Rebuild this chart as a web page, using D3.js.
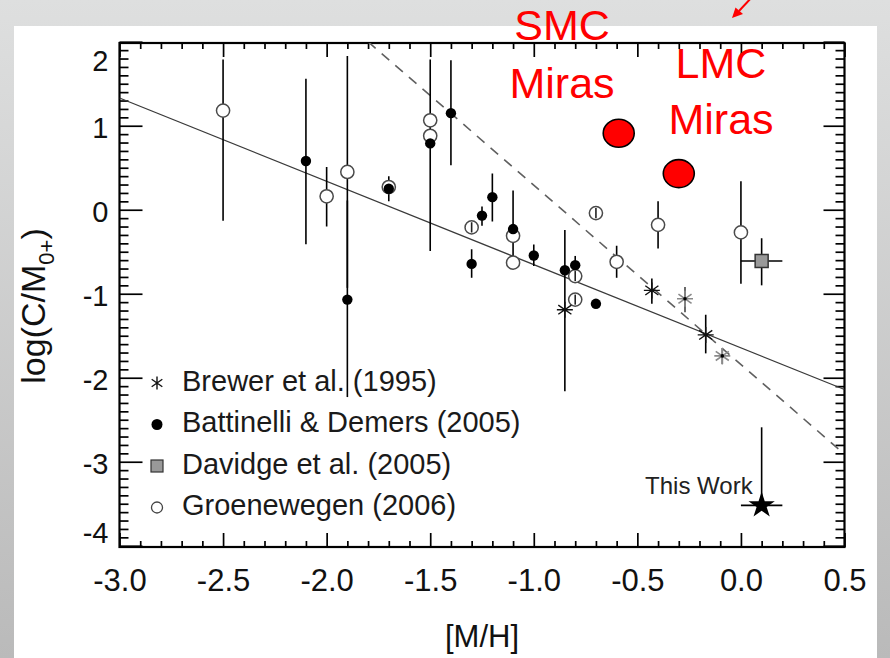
<!DOCTYPE html>
<html>
<head>
<meta charset="utf-8">
<script src="https://cdn.jsdelivr.net/npm/d3@7"></script>
<style>
  html, body { margin: 0; padding: 0; background: #fff; }
  svg { display: block; }
  text { font-family: "Liberation Sans", Arial, Helvetica, sans-serif; }
</style>
</head>
<body>
<svg id="chart" width="890" height="658"></svg>
<script>
// ---- axis ticks ----
const xTicks = [-3.0, -2.5, -2.0, -1.5, -1.0, -0.5, 0.0, 0.5];
const yTicks = [2, 1, 0, -1, -2, -3, -4];

// ---- Battinelli & Demers (2005): filled circles ----
const bdX  = [-2.10, -1.90, -1.70, -1.50, -1.40, -1.30, -1.25, -1.20, -1.10, -1.00, -0.85, -0.80, -0.70];
const bdY  = [ 0.58, -1.07,  0.25,  0.79,  1.15, -0.645, -0.07, 0.15, -0.23, -0.545, -0.72, -0.66, -1.12];
const bdLo = [-0.41, -2.23,  0.10, -0.49,  0.53, -0.81, -0.19, -0.14, -0.64, -0.67, -0.72, -0.74, -1.12];
const bdHi = [ 1.56,  0.11,  0.40,  1.79,  1.78, -0.47,  0.04,  0.43,  0.23, -0.415, -0.72, -0.55, -1.12];

// ---- Groenewegen (2006): open circles ----
const grX  = [-2.50, -2.00, -1.90, -1.70, -1.50, -1.50, -1.30, -1.10, -1.10, -0.80, -0.80, -0.70, -0.60, -0.40, 0.00];
const grY  = [ 1.18,  0.16,  0.45,  0.27,  1.065, 0.88, -0.21, -0.31, -0.63, -0.79, -1.07, -0.04, -0.62, -0.18, -0.27];
const grLo = [-0.13, -0.20, -0.93,  0.27,  1.065, 0.88, -0.27, -0.31, -0.63, -0.85, -1.13, -0.10, -0.81, -0.46, -0.88];
const grHi = [ 1.79,  0.51,  1.83,  0.27,  1.065, 0.88, -0.15, -0.31, -0.63, -0.73, -1.01,  0.02, -0.43,  0.10,  0.34];

// ---- Brewer et al. (1995): asterisks ----
const brX  = [-0.85, -0.43, -0.17];
const brY  = [-1.19, -0.96, -1.49];
const brLo = [-2.16, -1.12, -1.71];
const brHi = [-0.24, -0.82, -1.25];
// second Brewer subsample (grey asterisks)
const br2X  = [-0.27, -0.09];
const br2Y  = [-1.06, -1.74];
const br2Lo = [-1.22, -1.84];
const br2Hi = [-0.92, -1.65];

// ---- Davidge et al. (2005): grey square ----
const dvX = [0.10], dvY = [-0.61];
const dvXLo = [0.00], dvXHi = [0.20];
const dvYLo = [-0.90], dvYHi = [-0.34];

// ---- This Work: star ----
const twX = [0.10], twY = [-3.52];
const twXLo = [0.00], twXHi = [0.20];
const twYLo = [-3.52], twYHi = [-2.59];

// ---- Mira populations (red discs) ----
const miraNames = ["SMC", "LMC"];
const miraX = [-0.59, -0.30];
const miraY = [0.91, 0.43];

// ---- fitted relations ----
const fitX = [-3.0, 0.5],  fitY = [1.33, -2.14];
const dashX = [-1.80, 0.5], dashY = [2.00, -2.91];

// ---- legend ----
const legendNames = ["Brewer et al. (1995)", "Battinelli & Demers (2005)", "Davidge et al. (2005)", "Groenewegen (2006)"];
const legendKinds = ["asterisk", "filled", "square", "open"];

// =========================================================
const W = 890, H = 658;
const svg = d3.select("#chart");
const defs = svg.append("defs");

// slide background
const bg = defs.append("linearGradient").attr("id", "slideBg")
  .attr("x1", 0).attr("y1", 0).attr("x2", 0).attr("y2", 1);
bg.append("stop").attr("offset", "0%").attr("stop-color", "#dedfdf");
bg.append("stop").attr("offset", "100%").attr("stop-color", "#bababa");
svg.append("rect").attr("width", W).attr("height", H).attr("fill", "url(#slideBg)");
svg.append("rect").attr("x", 14).attr("y", 26).attr("width", 863).attr("height", H - 26).attr("fill", "#fff");

// scales
const L = 119.5, R = 844.5, T = 43, B = 547;
const x = d3.scaleLinear().domain([-3, 0.5]).range([L, R]);
const y = d3.scaleLinear().domain([-4.015, 1.985]).range([B, T]);

defs.append("clipPath").attr("id", "plotClip")
  .append("rect").attr("x", L).attr("y", T).attr("width", R - L).attr("height", B - T);

// minor tick positions
const xMinor = d3.range(-30, 6).map(i => i / 10).filter(v => Math.abs(v * 2 - Math.round(v * 2)) > 1e-6);
const yMinor = d3.range(-40, 20).map(i => i / 10).filter(v => Math.abs(v - Math.round(v)) > 1e-6);

function styleAxis(g) {
  g.select(".domain").remove();
  g.selectAll(".tick line").attr("stroke", "#000").attr("stroke-width", 1.7);
}

// bottom axis with labels
const gxB = svg.append("g").attr("transform", `translate(0,${B})`)
  .call(d3.axisBottom(x).tickValues(xTicks).tickSize(-14).tickSizeOuter(0).tickPadding(22)
    .tickFormat(d => d.toFixed(1)));
styleAxis(gxB);
gxB.selectAll("text").attr("font-size", 31).attr("fill", "#111");
svg.append("g").attr("transform", `translate(0,${B})`)
  .call(d3.axisBottom(x).tickValues(xMinor).tickSize(-6).tickSizeOuter(0).tickFormat(""))
  .call(styleAxis);
// top axis
svg.append("g").attr("transform", `translate(0,${T})`)
  .call(d3.axisTop(x).tickValues(xTicks).tickSize(-14).tickSizeOuter(0).tickFormat(""))
  .call(styleAxis);
svg.append("g").attr("transform", `translate(0,${T})`)
  .call(d3.axisTop(x).tickValues(xMinor).tickSize(-6).tickSizeOuter(0).tickFormat(""))
  .call(styleAxis);

// left axis with labels
const gyL = svg.append("g").attr("transform", `translate(${L},0)`)
  .call(d3.axisLeft(y).tickValues(yTicks).tickSize(-23).tickSizeOuter(0).tickPadding(11)
    .tickFormat(d => String(d)));
styleAxis(gyL);
gyL.selectAll("text").attr("font-size", 29).attr("fill", "#111")
  .attr("dy", d => d === 2 ? "0.98em" : d === -4 ? "-0.1em" : "0.42em");
svg.append("g").attr("transform", `translate(${L},0)`)
  .call(d3.axisLeft(y).tickValues(yMinor).tickSize(-9).tickSizeOuter(0).tickFormat(""))
  .call(styleAxis);
// right axis
svg.append("g").attr("transform", `translate(${R},0)`)
  .call(d3.axisRight(y).tickValues(yTicks).tickSize(-21).tickSizeOuter(0).tickFormat(""))
  .call(styleAxis);
svg.append("g").attr("transform", `translate(${R},0)`)
  .call(d3.axisRight(y).tickValues(yMinor).tickSize(-9).tickSizeOuter(0).tickFormat(""))
  .call(styleAxis);

// frame
svg.append("rect").attr("x", L).attr("y", T).attr("width", R - L).attr("height", B - T)
  .attr("fill", "none").attr("stroke", "#000").attr("stroke-width", 2.2);

// axis titles
svg.append("text").attr("x", (L + R) / 2).attr("y", 647).attr("text-anchor", "middle")
  .attr("font-size", 31).attr("fill", "#111").text("[M/H]");
const yTitle = svg.append("text").attr("transform", "translate(45,306) rotate(-90)")
  .attr("text-anchor", "middle").attr("font-size", 34).attr("fill", "#111");
yTitle.append("tspan").text("log(C/M");
yTitle.append("tspan").attr("font-size", 22).attr("dy", 9).text("0+");
yTitle.append("tspan").attr("dy", -9).text(")");

// plot content
const plot = svg.append("g").attr("clip-path", "url(#plotClip)");

// fitted lines
const line = d3.line().x(d => x(d[0])).y(d => y(d[1]));
plot.append("path").datum(d3.zip(fitX, fitY)).attr("d", line)
  .attr("fill", "none").attr("stroke", "#3a3a3a").attr("stroke-width", 1.3);
plot.append("path").datum(d3.zip(dashX, dashY)).attr("d", line)
  .attr("fill", "none").attr("stroke", "#606060").attr("stroke-width", 1.6)
  .attr("stroke-dasharray", "10,8");

const rOpen = 6.6, rFill = 5.2;

function vBars(g, xs, los, his, color, filterFn) {
  g.selectAll(null).data(d3.range(xs.length).filter(filterFn || (() => true))).join("line")
    .attr("x1", i => x(xs[i])).attr("x2", i => x(xs[i]))
    .attr("y1", i => y(his[i])).attr("y2", i => y(los[i]))
    .attr("stroke", color).attr("stroke-width", 1.6);
}

// error bars that extend beyond the circle are drawn first
const bigG = i => (y(grLo[i]) - y(grHi[i])) > 2 * rOpen;
vBars(plot, bdX, bdLo, bdHi, "#000");
vBars(plot, grX, grLo, grHi, "#000", bigG);
vBars(plot, brX, brLo, brHi, "#000");
vBars(plot, br2X, br2Lo, br2Hi, "#444");
vBars(plot, dvX, dvYLo, dvYHi, "#000");
vBars(plot, twX, twYLo, twYHi, "#000");
plot.selectAll(null).data(d3.range(dvX.length)).join("line")
  .attr("x1", i => x(dvXLo[i])).attr("x2", i => x(dvXHi[i]))
  .attr("y1", i => y(dvY[i])).attr("y2", i => y(dvY[i]))
  .attr("stroke", "#000").attr("stroke-width", 1.6);
plot.selectAll(null).data(d3.range(twX.length)).join("line")
  .attr("x1", i => x(twXLo[i])).attr("x2", i => x(twXHi[i]))
  .attr("y1", i => y(twY[i])).attr("y2", i => y(twY[i]))
  .attr("stroke", "#000").attr("stroke-width", 1.6);

// open circles
plot.selectAll(null).data(d3.range(grX.length)).join("circle")
  .attr("cx", i => x(grX[i])).attr("cy", i => y(grY[i])).attr("r", rOpen)
  .attr("fill", "#fff").attr("stroke", "#4a4a4a").attr("stroke-width", 1.5);
// short error bars sit inside their circle
vBars(plot, grX, grLo, grHi, "#222", i => !bigG(i) && grLo[i] !== grHi[i]);

// filled circles
plot.selectAll(null).data(d3.range(bdX.length)).join("circle")
  .attr("cx", i => x(bdX[i])).attr("cy", i => y(bdY[i])).attr("r", rFill)
  .attr("fill", "#000");

// asterisks
function asteriskPath(r, withBar) {
  const a = [90, 35, -35].map(d => d * Math.PI / 180);
  return a.map(t => `M${-r * Math.cos(t)},${r * Math.sin(t)}L${r * Math.cos(t)},${-r * Math.sin(t)}`).join("") +
    (withBar ? `M${-r},0L${r},0` : "");
}
plot.selectAll(null).data(d3.range(brX.length)).join("path")
  .attr("transform", i => `translate(${x(brX[i])},${y(brY[i])})`)
  .attr("d", asteriskPath(8, true)).attr("stroke", "#111").attr("stroke-width", 1.4).attr("fill", "none");
plot.selectAll(null).data(d3.range(br2X.length)).join("path")
  .attr("transform", i => `translate(${x(br2X[i])},${y(br2Y[i])})`)
  .attr("d", asteriskPath(8, true)).attr("stroke", "#8a8a8a").attr("stroke-width", 1.6).attr("fill", "none");
plot.selectAll(null).data(d3.range(br2X.length)).join("circle")
  .attr("cx", i => x(br2X[i])).attr("cy", i => y(br2Y[i])).attr("r", 1.8).attr("fill", "#000");

// Davidge square
plot.selectAll(null).data(d3.range(dvX.length)).join("rect")
  .attr("x", i => x(dvX[i]) - 6.5).attr("y", i => y(dvY[i]) - 6.5)
  .attr("width", 13).attr("height", 13)
  .attr("fill", "#999").attr("stroke", "#333").attr("stroke-width", 1.5);

// This Work star
plot.selectAll(null).data(d3.range(twX.length)).join("path")
  .attr("transform", i => `translate(${x(twX[i])},${y(twY[i])})`)
  .attr("d", d3.symbol(d3.symbolStar, 215)()).attr("fill", "#000");
svg.append("text").attr("x", x(twX[0]) - 9).attr("y", y(twY[0]) - 11)
  .attr("text-anchor", "end").attr("font-size", 24).attr("fill", "#222").text("This Work");

// legend
const legend = svg.append("g");
legendNames.forEach((name, k) => {
  const by = 390.5 + k * 41.5, sx = 157, sy = by - 7.5;
  const kind = legendKinds[k];
  if (kind === "asterisk") {
    legend.append("path").attr("transform", `translate(${sx},${sy})`)
      .attr("d", asteriskPath(6.5, false)).attr("stroke", "#111").attr("stroke-width", 1.4);
  } else if (kind === "filled") {
    legend.append("circle").attr("cx", sx).attr("cy", sy).attr("r", 5.5).attr("fill", "#000");
  } else if (kind === "square") {
    legend.append("rect").attr("x", sx - 6).attr("y", sy - 6).attr("width", 12).attr("height", 12)
      .attr("fill", "#999").attr("stroke", "#333").attr("stroke-width", 1.2);
  } else {
    legend.append("circle").attr("cx", sx).attr("cy", sy).attr("r", 5.5)
      .attr("fill", "#fff").attr("stroke", "#444").attr("stroke-width", 1.3);
  }
  legend.append("text").attr("x", 182).attr("y", by).attr("font-size", 29).attr("fill", "#1a1a1a").text(name);
});

// Mira discs and labels
svg.selectAll(null).data(d3.range(miraX.length)).join("ellipse")
  .attr("cx", i => x(miraX[i])).attr("cy", i => y(miraY[i])).attr("rx", 15.5).attr("ry", 14)
  .attr("fill", "#ff0000").attr("stroke", "#000").attr("stroke-width", 1.6);
const redFont = "Lato, 'Open Sans', sans-serif";
[[562, 40, 98], [721, 78, 134]].forEach((p, i) => {
  svg.append("text").attr("x", p[0]).attr("y", p[1]).attr("text-anchor", "middle")
    .attr("font-family", redFont).attr("font-size", 43).attr("fill", "#ff0000").text(miraNames[i]);
  svg.append("text").attr("x", p[0]).attr("y", p[2]).attr("text-anchor", "middle")
    .attr("font-family", redFont).attr("font-size", 43).attr("fill", "#ff0000").text("Miras");
});

// red pointer arrow at the top
svg.append("line").attr("x1", 753).attr("y1", -4).attr("x2", 739).attr("y2", 11)
  .attr("stroke", "#ff0000").attr("stroke-width", 2);
svg.append("path").attr("d", "M732,18 L735.5,7.5 L743,14 Z").attr("fill", "#ff0000");
</script>
</body>
</html>
